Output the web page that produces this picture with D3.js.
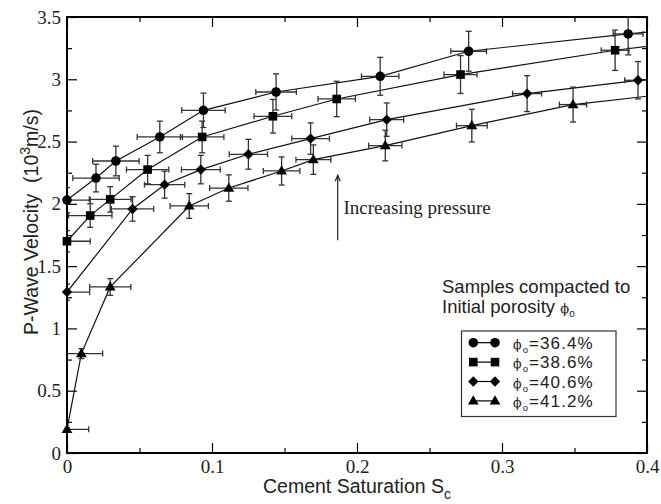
<!DOCTYPE html>
<html>
<head>
<meta charset="utf-8">
<script src="https://cdn.jsdelivr.net/npm/d3@7"></script>
<style>
  html, body { margin: 0; padding: 0; background: #fff; }
  svg { display: block; }
</style>
</head>
<body>
<svg id="chart" width="661" height="504"></svg>
<script>
// ---------------- data ----------------
const seriesNames = ["36.4%", "38.6%", "40.6%", "41.2%"];
const seriesShapes = ["circle", "square", "diamond", "triangle"];

const circleX    = [0, 0.020, 0.0337, 0.064, 0.0941, 0.1442, 0.216, 0.277, 0.387];
const circleV    = [2.03, 2.207, 2.344, 2.537, 2.751, 2.898, 3.024, 3.225, 3.364];
const circleXErr = [0.016, 0.016, 0.016, 0.0156, 0.015, 0.014, 0.0129, 0.0123, 0.0103];
const circleVErr = [0.10, 0.111, 0.119, 0.127, 0.138, 0.145, 0.152, 0.160, 0.168];

const squareX    = [0, 0.016, 0.0298, 0.0556, 0.0932, 0.142, 0.186, 0.2714, 0.378];
const squareV    = [1.70, 1.906, 2.036, 2.275, 2.537, 2.703, 2.842, 3.038, 3.233];
const squareXErr = [0.016, 0.015, 0.0144, 0.0146, 0.015, 0.013, 0.0129, 0.0114, 0.0096];
const squareVErr = [0.085, 0.095, 0.102, 0.114, 0.127, 0.135, 0.142, 0.152, 0.162];

const diamondX    = [0, 0.0452, 0.0673, 0.0923, 0.1251, 0.168, 0.2205, 0.3173, 0.3938];
const diamondV    = [1.292, 1.959, 2.154, 2.275, 2.398, 2.524, 2.676, 2.885, 2.992];
const diamondXErr = [0.0156, 0.0146, 0.0139, 0.0134, 0.0132, 0.013, 0.0117, 0.010, 0.0092];
const diamondVErr = [0.065, 0.098, 0.108, 0.114, 0.12, 0.126, 0.134, 0.144, 0.15];

const triangleX    = [0, 0.0099, 0.0298, 0.0843, 0.1116, 0.148, 0.1699, 0.2195, 0.2792, 0.349];
const triangleV    = [0.19, 0.798, 1.333, 1.983, 2.127, 2.264, 2.355, 2.468, 2.628, 2.797];
const triangleXErr = [0.015, 0.0147, 0.0142, 0.0132, 0.0132, 0.0126, 0.012, 0.0115, 0.0106, 0.0094];
const triangleVErr = [0.01, 0.04, 0.067, 0.099, 0.106, 0.113, 0.118, 0.123, 0.131, 0.14];

// where each guide curve meets the right frame (S_c = 0.4)
const curveEndX = 0.4;
const curveEndV = [3.378, 3.265, 3.0, 2.864];

const xTicksMajor = [0, 0.1, 0.2, 0.3, 0.4];
const xTicksMinor = [0.05, 0.15, 0.25, 0.35];
const yTicksMajor = [0, 0.5, 1, 1.5, 2, 2.5, 3, 3.5];
const yTicksMinor = [0.25, 0.75, 1.25, 1.75, 2.25, 2.75, 3.25];
const xTickLabels = ["0", "0.1", "0.2", "0.3", "0.4"];
const yTickLabels = ["0", "0.5", "1", "1.5", "2", "2.5", "3", "3.5"];

const annotationText = "Increasing pressure";
const annotationPos = [0.1907, 1.922];
const arrowFrom = [0.1867, 1.707];
const arrowTo = [0.1867, 2.229];

// ---------------- build ----------------
const series = [
  {x: circleX, v: circleV, xe: circleXErr, ve: circleVErr},
  {x: squareX, v: squareV, xe: squareXErr, ve: squareVErr},
  {x: diamondX, v: diamondV, xe: diamondXErr, ve: diamondVErr},
  {x: triangleX, v: triangleV, xe: triangleXErr, ve: triangleVErr}
].map((s, i) => ({
  name: seriesNames[i], shape: seriesShapes[i], endV: curveEndV[i],
  pts: s.x.map((xv, j) => ({x: xv, v: s.v[j], xe: s.xe[j], ve: s.ve[j]}))
}));

const svg = d3.select("#chart");
const L = 67, R = 647, T = 17, B = 453;
const x = d3.scaleLinear().domain([0, 0.4]).range([L, R]);
const y = d3.scaleLinear().domain([0, 3.5]).range([B, T]);

const serif = "'Liberation Serif', 'Times New Roman', serif";
const sans = "'Liberation Sans', Arial, Helvetica, sans-serif";
const phiFont = "'DejaVu Serif', serif";

svg.append("defs").append("clipPath").attr("id", "plotclip")
  .append("rect").attr("x", L).attr("y", T).attr("width", R - L).attr("height", B - T);

// axes (ticks inward on all sides)
function styleAxis(g) {
  g.select(".domain").remove();
  g.selectAll(".tick line").attr("stroke", "#000").attr("stroke-width", 1.2);
}
const fmtX = (d) => xTickLabels[xTicksMajor.indexOf(d)];
const fmtY = (d) => yTickLabels[yTicksMajor.indexOf(d)];

svg.append("g").attr("transform", `translate(0,${B})`)
  .call(d3.axisBottom(x).tickValues(xTicksMajor).tickFormat(fmtX).tickSizeInner(-10).tickSizeOuter(0).tickPadding(6.5))
  .call(styleAxis)
  .call(g => g.attr("font-family", serif).attr("font-size", 19))
  .call(g => g.selectAll("text").attr("font-family", serif).attr("font-size", 19).attr("fill", "#222"));
svg.append("g").attr("transform", `translate(0,${B})`)
  .call(d3.axisBottom(x).tickValues(xTicksMinor).tickFormat("").tickSizeInner(-5).tickSizeOuter(0))
  .call(styleAxis);
svg.append("g").attr("transform", `translate(0,${T})`)
  .call(d3.axisTop(x).tickValues(xTicksMajor).tickFormat("").tickSizeInner(-10).tickSizeOuter(0))
  .call(styleAxis);
svg.append("g").attr("transform", `translate(0,${T})`)
  .call(d3.axisTop(x).tickValues(xTicksMinor).tickFormat("").tickSizeInner(-5).tickSizeOuter(0))
  .call(styleAxis);
svg.append("g").attr("transform", `translate(${L},0)`)
  .call(d3.axisLeft(y).tickValues(yTicksMajor).tickFormat(fmtY).tickSizeInner(-10).tickSizeOuter(0).tickPadding(6))
  .call(styleAxis)
  .call(g => g.attr("font-family", serif).attr("font-size", 19))
  .call(g => g.selectAll("text").attr("font-family", serif).attr("font-size", 19).attr("fill", "#222"));
svg.append("g").attr("transform", `translate(${L},0)`)
  .call(d3.axisLeft(y).tickValues(yTicksMinor).tickFormat("").tickSizeInner(-5).tickSizeOuter(0))
  .call(styleAxis);
svg.append("g").attr("transform", `translate(${R},0)`)
  .call(d3.axisRight(y).tickValues(yTicksMajor).tickFormat("").tickSizeInner(-10).tickSizeOuter(0))
  .call(styleAxis);
svg.append("g").attr("transform", `translate(${R},0)`)
  .call(d3.axisRight(y).tickValues(yTicksMinor).tickFormat("").tickSizeInner(-5).tickSizeOuter(0))
  .call(styleAxis);

// lines
const plot = svg.append("g").attr("clip-path", "url(#plotclip)");
const line = d3.line().x(d => x(d.x)).y(d => y(d.v)).curve(d3.curveLinear);
series.forEach(s => {
  const pts = s.pts.concat([{x: curveEndX, v: s.endV}]);
  plot.append("path").attr("d", line(pts)).attr("fill", "none")
    .attr("stroke", "#111").attr("stroke-width", 1.2);
});

// error bars
const cap = 3;
const eb = plot.append("g").attr("stroke", "#333").attr("stroke-width", 1.3).attr("fill", "none");
series.forEach(s => {
  s.pts.forEach(p => {
    const px = x(p.x), py = y(p.v);
    const x0 = x(p.x - p.xe), x1 = x(p.x + p.xe);
    const y0 = y(p.v - p.ve), y1 = y(p.v + p.ve);
    eb.append("line").attr("x1", x0).attr("x2", x1).attr("y1", py).attr("y2", py);
    eb.append("line").attr("x1", x0).attr("x2", x0).attr("y1", py - cap).attr("y2", py + cap);
    eb.append("line").attr("x1", x1).attr("x2", x1).attr("y1", py - cap).attr("y2", py + cap);
    eb.append("line").attr("x1", px).attr("x2", px).attr("y1", y0).attr("y2", y1);
    eb.append("line").attr("x1", px - cap).attr("x2", px + cap).attr("y1", y0).attr("y2", y0);
    eb.append("line").attr("x1", px - cap).attr("x2", px + cap).attr("y1", y1).attr("y2", y1);
  });
});

// markers
function shapePath(shape) {
  if (shape === "circle") return d3.symbol().type(d3.symbolCircle).size(72)();
  if (shape === "square") return d3.symbol().type(d3.symbolSquare).size(74)();
  if (shape === "diamond") return "M0,-5.2L5.2,0L0,5.2L-5.2,0Z";
  return "M0,-5.6L5.4,3.6L-5.4,3.6Z";
}
const marks = svg.append("g");
series.forEach(s => {
  marks.selectAll(null).data(s.pts).enter().append("path")
    .attr("d", shapePath(s.shape))
    .attr("transform", d => `translate(${x(d.x)},${y(d.v)})`)
    .attr("fill", "#000");
});

// frame
svg.append("rect").attr("x", L).attr("y", T).attr("width", R - L).attr("height", B - T)
  .attr("fill", "none").attr("stroke", "#000").attr("stroke-width", 2);

// axis titles
const xt = svg.append("text").attr("x", 357).attr("y", 493).attr("text-anchor", "middle")
  .attr("font-family", sans).attr("font-size", 19.5).attr("fill", "#222");
xt.append("tspan").text("Cement Saturation S");
xt.append("tspan").attr("font-size", 14).attr("dy", 6).text("c");

const yt = svg.append("text").attr("transform", "translate(38,222) rotate(-90)")
  .attr("text-anchor", "middle").attr("font-family", sans).attr("font-size", 19.5).attr("fill", "#222");
yt.append("tspan").text("P-Wave Velocity\u00a0\u00a0(10");
yt.append("tspan").attr("font-size", 14).attr("dy", -8).text("3");
yt.append("tspan").attr("dy", 8).text("m/s)");

// annotation
svg.append("text").attr("x", x(annotationPos[0])).attr("y", y(annotationPos[1]))
  .attr("font-family", serif).attr("font-size", 19).attr("fill", "#222").text(annotationText);
svg.append("line").attr("x1", x(arrowFrom[0])).attr("x2", x(arrowTo[0]))
  .attr("y1", y(arrowFrom[1])).attr("y2", y(arrowTo[1])).attr("stroke", "#222").attr("stroke-width", 1.2);
svg.append("path").attr("d", `M${x(arrowTo[0]) - 2.5},${y(arrowTo[1]) + 6}L${x(arrowTo[0])},${y(arrowTo[1])}L${x(arrowTo[0]) + 2.5},${y(arrowTo[1]) + 6}`)
  .attr("fill", "none").attr("stroke", "#222").attr("stroke-width", 1.2);

// legend heading
const lh = svg.append("g").attr("font-family", sans).attr("font-size", 18.5).attr("fill", "#222");
lh.append("text").attr("x", 442).attr("y", 293).text("Samples compacted to");
const lh2 = lh.append("text").attr("x", 442).attr("y", 313);
lh2.append("tspan").text("Initial porosity ");
lh2.append("tspan").attr("font-family", phiFont).attr("font-size", 13).text("\u03d5");
lh2.append("tspan").attr("font-size", 10).attr("dy", 4).text("o");

// legend box
svg.append("rect").attr("x", 461.5).attr("y", 331).attr("width", 154.5).attr("height", 85.5)
  .attr("fill", "#fff").attr("stroke", "#333").attr("stroke-width", 1.2);
const lg = svg.append("g");
series.forEach((s, i) => {
  const cy = 342.7 + i * 19.4;
  lg.append("line").attr("x1", 473.3).attr("x2", 495).attr("y1", cy).attr("y2", cy)
    .attr("stroke", "#000").attr("stroke-width", 1.2);
  [473.3, 495].forEach(cx => lg.append("path").attr("d", shapePath(s.shape))
    .attr("transform", `translate(${cx},${cy})`).attr("fill", "#000"));
  const t = lg.append("text").attr("x", 513).attr("y", cy + 6.3)
    .attr("font-family", sans).attr("font-size", 17).attr("letter-spacing", 1.1).attr("fill", "#222");
  t.append("tspan").attr("font-family", phiFont).attr("font-size", 12.5).text("\u03d5");
  t.append("tspan").attr("font-size", 9.5).attr("dy", 4).text("o");
  t.append("tspan").attr("dy", -4).text("=" + s.name);
});
</script>
</body>
</html>
